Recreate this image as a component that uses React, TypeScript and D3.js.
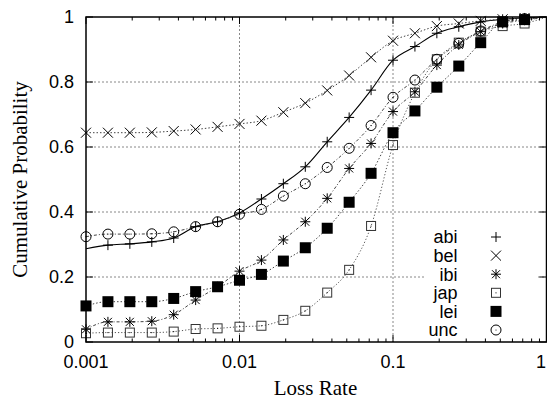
import React from "react";
import * as d3 from "d3";

// Loss rates sampled every 1/7 decade from 0.001 to 1
const lossRates: number[] = d3.range(0, 22).map((k) => Math.pow(10, -3 + k / 7));

const seriesNames = ["abi", "bel", "ibi", "jap", "lei", "unc"];

// Cumulative probability at each sampled loss rate
const abiValues = [0.287, 0.298, 0.302, 0.308, 0.32, 0.355, 0.37, 0.397, 0.44, 0.487, 0.539, 0.616, 0.691, 0.775, 0.867, 0.909, 0.95, 0.97, 0.985, 0.993, 0.997, 1];
const belValues = [0.644, 0.644, 0.644, 0.645, 0.649, 0.654, 0.662, 0.671, 0.681, 0.707, 0.735, 0.774, 0.82, 0.876, 0.927, 0.95, 0.972, 0.98, 0.988, 0.993, 0.997, 1];
const ibiValues = [0.039, 0.062, 0.062, 0.064, 0.084, 0.129, 0.17, 0.218, 0.252, 0.314, 0.37, 0.442, 0.534, 0.611, 0.709, 0.77, 0.852, 0.914, 0.955, 0.98, 0.99, 1];
const japValues = [0.027, 0.029, 0.029, 0.029, 0.032, 0.04, 0.042, 0.047, 0.05, 0.068, 0.096, 0.152, 0.222, 0.357, 0.606, 0.767, 0.87, 0.921, 0.955, 0.972, 0.98, 1];
const leiValues = [0.111, 0.124, 0.124, 0.124, 0.134, 0.155, 0.17, 0.19, 0.208, 0.249, 0.29, 0.35, 0.43, 0.519, 0.644, 0.711, 0.784, 0.849, 0.921, 0.985, 0.992, 1];
const uncValues = [0.324, 0.332, 0.332, 0.333, 0.339, 0.355, 0.37, 0.393, 0.408, 0.449, 0.487, 0.537, 0.596, 0.666, 0.753, 0.806, 0.87, 0.919, 0.957, 0.985, 0.995, 1];

// First and last sample index that carries a point marker
const markerFrom = [1, 0, 0, 0, 0, 0];
const markerTo = 20;

const xTicks = [0.001, 0.01, 0.1, 1];
const xTickLabels = ["0.001", "0.01", "0.1", "1"];
const yTicks = [0, 0.2, 0.4, 0.6, 0.8, 1];
const yTickLabels = ["0", "0.2", "0.4", "0.6", "0.8", "1"];

const W = 547;
const H = 399;
const M = { left: 86, right: 546.5, top: 17, bottom: 342 };

const sansFont = "'Liberation Sans', Arial, Helvetica, sans-serif";
const serifFont = "'Liberation Serif', 'Times New Roman', serif";

type MarkerKind = "plus" | "cross" | "star" | "square" | "filled" | "circle";
const markerKinds: MarkerKind[] = ["plus", "cross", "star", "square", "filled", "circle"];
const lineDash = ["none", "1.5,2", "3,2,1,2", "1.2,2", "1.5,2", "3,2,1,2"];
const lineColor = ["#000", "#444", "#444", "#555", "#444", "#444"];

function Marker({ kind, x, y }: { kind: MarkerKind; x: number; y: number }) {
  const s = 5;
  switch (kind) {
    case "plus":
      return <path d={`M${x - s},${y}H${x + s}M${x},${y - s}V${y + s}`} stroke="#000" strokeWidth={1} fill="none" />;
    case "cross":
      return <path d={`M${x - s},${y - s}L${x + s},${y + s}M${x - s},${y + s}L${x + s},${y - s}`} stroke="#000" strokeWidth={1} fill="none" />;
    case "star":
      return (
        <path
          d={`M${x - s},${y}H${x + s}M${x},${y - s}V${y + s}M${x - 4},${y - 4}L${x + 4},${y + 4}M${x - 4},${y + 4}L${x + 4},${y - 4}`}
          stroke="#000"
          strokeWidth={1}
          fill="none"
        />
      );
    case "square":
      return (
        <g>
          <rect x={x - 4.5} y={y - 4.5} width={9} height={9} stroke="#333" strokeWidth={1} fill="none" />
          <circle cx={x} cy={y} r={0.6} fill="#000" />
        </g>
      );
    case "filled":
      return <rect x={x - 5.5} y={y - 5.5} width={11} height={11} fill="#000" />;
    case "circle":
      return (
        <g>
          <circle cx={x} cy={y} r={5} stroke="#000" strokeWidth={1} fill="none" />
          <circle cx={x} cy={y} r={0.6} fill="#000" />
        </g>
      );
  }
}

export default function App() {
  const x = d3.scaleLog().domain([0.001, 1]).range([M.left, M.right]);
  const y = d3.scaleLinear().domain([0, 1]).range([M.bottom, M.top]);

  const allValues = [abiValues, belValues, ibiValues, japValues, leiValues, uncValues];
  const line = d3
    .line<number>()
    .x((_, i) => x(lossRates[i]))
    .y((v) => y(v))
    .curve(d3.curveMonotoneX);

  // Minor log ticks
  const minorTicks: number[] = [];
  for (let e = -3; e < 0; e++) {
    for (let m = 2; m <= 9; m++) minorTicks.push(m * Math.pow(10, e));
  }

  const legendRowY = (i: number) => 237 + i * 18.6;
  // keep the last tick label inside the canvas
  const xLabelPos = (t: number) => Math.min(x(t), W - 6);

  return (
    <svg width={W} height={H} style={{ position: "absolute", left: 0, top: 0, background: "#fff" }}>
      <rect x={0} y={0} width={W} height={H} fill="#fff" />

      {/* grid */}
      <g stroke="#888" strokeWidth={1} strokeDasharray="2,2">
        {xTicks.slice(1, -1).map((t) => (
          <line key={"gx" + t} x1={x(t)} x2={x(t)} y1={M.top} y2={M.bottom} />
        ))}
        {yTicks.slice(1, -1).map((t) => (
          <line key={"gy" + t} x1={M.left} x2={M.right} y1={y(t)} y2={y(t)} />
        ))}
      </g>

      {/* legend backdrop */}
      <rect x={425} y={226} width={111} height={115} fill="#fff" />

      {/* series lines */}
      <g clipPath="url(#plotClip)">
        {allValues.map((vals, si) => (
          <path
            key={"l" + si}
            d={line(vals) ?? ""}
            fill="none"
            stroke={lineColor[si]}
            strokeWidth={si === 0 ? 1.1 : 1}
            strokeDasharray={lineDash[si] === "none" ? undefined : lineDash[si]}
          />
        ))}
      </g>

      {/* markers */}
      {allValues.map((vals, si) =>
        vals.map((v, i) =>
          i >= markerFrom[si] && i <= markerTo ? (
            <Marker key={`m${si}-${i}`} kind={markerKinds[si]} x={x(lossRates[i])} y={y(v)} />
          ) : null
        )
      )}

      <defs>
        <clipPath id="plotClip">
          <rect x={M.left} y={M.top - 2} width={M.right - M.left} height={M.bottom - M.top + 2} />
        </clipPath>
      </defs>

      {/* ticks */}
      <g stroke="#000" strokeWidth={1}>
        {xTicks.map((t) => (
          <g key={"tx" + t}>
            <line x1={x(t)} x2={x(t)} y1={M.bottom} y2={M.bottom - 7} />
            <line x1={x(t)} x2={x(t)} y1={M.top} y2={M.top + 7} />
          </g>
        ))}
        {minorTicks.map((t) => (
          <g key={"mx" + t}>
            <line x1={x(t)} x2={x(t)} y1={M.bottom} y2={M.bottom - 3.5} />
            <line x1={x(t)} x2={x(t)} y1={M.top} y2={M.top + 3.5} />
          </g>
        ))}
        {yTicks.map((t) => (
          <g key={"ty" + t}>
            <line x1={M.left} x2={M.left + 7} y1={y(t)} y2={y(t)} />
            <line x1={M.right} x2={M.right - 7} y1={y(t)} y2={y(t)} />
          </g>
        ))}
      </g>

      {/* frame */}
      <rect x={M.left} y={M.top} width={M.right - M.left} height={M.bottom - M.top} fill="none" stroke="#000" strokeWidth={1.5} />

      {/* tick labels */}
      <g fontFamily={sansFont} fontSize={18} fill="#000">
        {xTicks.map((t, i) => (
          <text key={"lx" + t} x={xLabelPos(t)} y={368} textAnchor="middle">
            {xTickLabels[i]}
          </text>
        ))}
        {yTicks.map((t, i) => (
          <text key={"ly" + t} x={74} y={y(t) + 6.4} textAnchor="end">
            {yTickLabels[i]}
          </text>
        ))}
      </g>

      {/* axis titles */}
      <text x={315.5} y={395} textAnchor="middle" fontFamily={serifFont} fontSize={21}>
        Loss Rate
      </text>
      <text
        transform={`translate(27,${(M.top + M.bottom) / 2}) rotate(-90)`}
        textAnchor="middle"
        fontFamily={serifFont}
        fontSize={21}
      >
        Cumulative Probability
      </text>

      {/* legend */}
      <g fontFamily={sansFont} fontSize={18}>
        {seriesNames.map((name, i) => (
          <g key={"lg" + name}>
            <text x={457.5} y={legendRowY(i) + 6.4} textAnchor="end">
              {name}
            </text>
            <Marker kind={markerKinds[i]} x={496} y={legendRowY(i)} />
          </g>
        ))}
      </g>
    </svg>
  );
}
